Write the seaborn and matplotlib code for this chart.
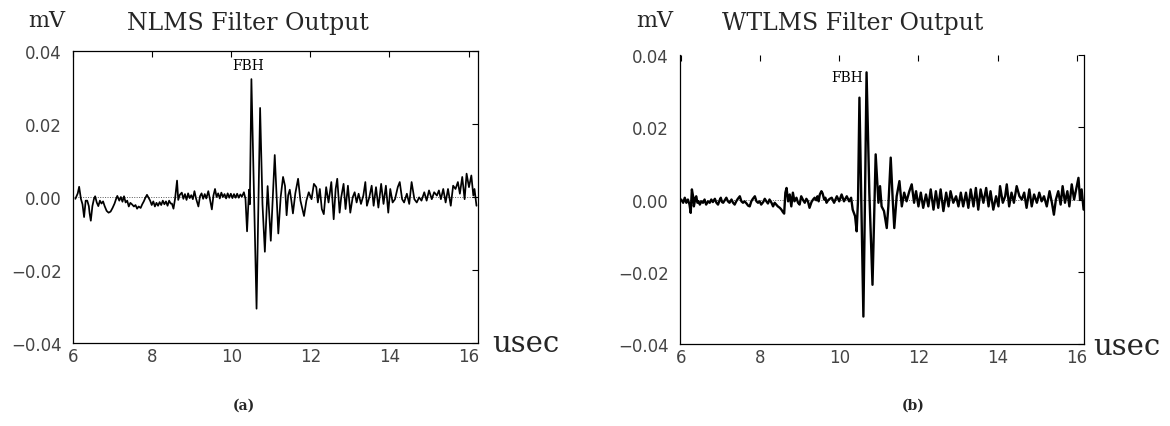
import numpy as np
import pandas as pd
import matplotlib
matplotlib.use("Agg")
import matplotlib.pyplot as plt
import seaborn as sns

# ---------------- data (time in usec, amplitude in 1e-3 mV) ----------------
nlms_time = [
    6.06, 6.12, 6.155, 6.20, 6.24, 6.28, 6.32, 6.36, 6.40, 6.42, 6.45, 6.49, 6.53, 6.56, 6.60, 6.64,
    6.68, 6.72, 6.76, 6.80, 6.85, 6.90, 6.95, 7.00, 7.05, 7.09, 7.12, 7.17, 7.21, 7.25, 7.29, 7.33,
    7.37, 7.41, 7.45, 7.49, 7.54, 7.58, 7.62, 7.66, 7.71, 7.75, 7.79, 7.83, 7.87, 7.91, 7.95, 7.99,
    8.03, 8.07, 8.11, 8.15, 8.19, 8.23, 8.27, 8.31, 8.35, 8.39, 8.43, 8.47, 8.50, 8.54, 8.58, 8.63,
    8.66, 8.70, 8.75, 8.79, 8.83, 8.87, 8.91, 8.95, 8.99, 9.03, 9.07, 9.11, 9.17, 9.21, 9.25, 9.29,
    9.33, 9.37, 9.42, 9.46, 9.51, 9.55, 9.59, 9.63, 9.67, 9.71, 9.75, 9.79, 9.83, 9.87, 9.91, 9.95,
    9.99, 10.03, 10.07, 10.11, 10.15, 10.19, 10.23, 10.27, 10.32, 10.36, 10.40, 10.45, 10.47, 10.51,
    10.64, 10.69, 10.73, 10.79, 10.85, 10.92, 11.00, 11.10, 11.19, 11.25, 11.31, 11.36, 11.40, 11.44,
    11.48, 11.52, 11.56, 11.62, 11.69, 11.75, 11.84, 11.90, 11.96, 12.03, 12.09, 12.15, 12.19, 12.24,
    12.29, 12.34, 12.40, 12.46, 12.53, 12.59, 12.64, 12.68, 12.74, 12.78, 12.84, 12.89, 12.95, 13.01,
    13.07, 13.12, 13.17, 13.22, 13.28, 13.34, 13.39, 13.43, 13.49, 13.55, 13.60, 13.66, 13.72, 13.79,
    13.85, 13.91, 13.97, 14.02, 14.08, 14.14, 14.21, 14.26, 14.32, 14.37, 14.44, 14.50, 14.56, 14.63,
    14.69, 14.75, 14.81, 14.88, 14.94, 15.00, 15.07, 15.13, 15.20, 15.25, 15.30, 15.36, 15.42, 15.48,
    15.55, 15.61, 15.67, 15.73, 15.78, 15.84, 15.90, 15.95, 16.01, 16.07, 16.12, 16.15, 16.20,
]
nlms_value_e3 = [
    -0.5, 1.0, 2.8, -0.5, -2.0, -5.5, -1.0, -1.0, -2.5, -4.5, -6.5, -2.5, -0.5, 0.2, -1.5, -2.5,
    -1.0, -1.8, -1.2, -2.5, -3.8, -4.3, -4.0, -3.0, -1.8, -0.5, 0.3, -1.0, 0.0, -1.3, 0.2, -1.5,
    -1.0, -2.6, -1.6, -2.0, -2.6, -2.2, -3.2, -2.6, -3.0, -2.0, -1.2, -0.2, 0.6, -0.2, -1.0, -2.2,
    -1.2, -2.6, -1.6, -2.4, -1.4, -2.2, -1.0, -2.0, -1.2, -2.4, -1.0, -1.8, -1.8, -3.2, -0.5, 4.5,
    -0.8, 0.6, 1.2, -0.5, 0.8, -0.8, 1.0, -0.3, 0.5, -0.6, 1.6, -0.4, -2.6, 0.2, 1.0, -0.5,
    0.8, -0.4, 1.6, -0.5, -3.4, 0.4, 2.2, 0.0, 1.0, -0.4, 1.2, 0.0, 0.8, -0.4, 1.0, -0.2,
    0.9, -0.3, 0.8, -0.2, 0.9, -0.2, 0.7, 0.1, 1.3, -0.5, -9.4, 2.0, -2.0, 32.3,
    -30.6, 0.0, 24.4, -2.0, -15.0, 3.0, -12.0, 11.5, -10.0, 0.0, 5.5, 3.0, -5.0, 0.5,
    2.0, -1.0, -4.5, 1.0, 5.0, -1.0, -5.2, -1.0, 1.3, -0.6, 3.6, 2.7, -1.5, 2.2,
    -3.3, -4.7, 2.7, -1.5, 4.1, -6.1, 2.2, 5.0, -4.3, -0.1, 3.6, -3.3, 3.1, -4.3,
    -0.1, 1.3, -1.5, 0.9, -1.9, 0.4, 4.1, -2.4, -0.1, 3.1, -2.4, 2.7, -2.9, 3.6,
    -1.9, 3.1, -4.3, 2.2, -1.5, -0.6, 2.7, 4.1, -0.6, -1.5, 0.9, -1.9, 4.1, -0.6,
    -1.5, -0.1, -1.0, 1.3, -1.0, 1.8, -0.6, 1.3, 0.4, 1.8, -0.6, 2.2, -1.5, 2.2,
    -2.4, 3.1, 2.2, 4.1, 0.9, 5.5, -0.6, 6.4, 2.7, 5.9, 0.4, 2.2, -2.4,
]

wtlms_time = [
    6.01, 6.06, 6.10, 6.14, 6.18, 6.22, 6.25, 6.28, 6.31, 6.33, 6.37, 6.39, 6.42, 6.45, 6.48, 6.52,
    6.56, 6.60, 6.64, 6.69, 6.73, 6.77, 6.81, 6.86, 6.90, 6.94, 6.98, 7.01, 7.04, 7.07, 7.11, 7.15,
    7.19, 7.23, 7.28, 7.32, 7.36, 7.40, 7.44, 7.49, 7.53, 7.57, 7.61, 7.66, 7.70, 7.74, 7.78, 7.82,
    7.87, 7.91, 7.95, 7.99, 8.03, 8.08, 8.12, 8.16, 8.20, 8.24, 8.29, 8.33, 8.37, 8.41, 8.45, 8.50,
    8.54, 8.58, 8.61, 8.64, 8.67, 8.71, 8.75, 8.79, 8.83, 8.87, 8.92, 8.96, 9.00, 9.04, 9.09, 9.13,
    9.17, 9.21, 9.25, 9.30, 9.34, 9.38, 9.42, 9.45, 9.48, 9.51, 9.55, 9.58, 9.62, 9.65, 9.68, 9.72,
    9.76, 9.81, 9.87, 9.94, 10.00, 10.06, 10.12, 10.19, 10.25, 10.30, 10.34, 10.40, 10.44, 10.475,
    10.51, 10.55, 10.61, 10.65, 10.69, 10.76, 10.84, 10.92, 10.99, 11.03, 11.07, 11.13, 11.20, 11.24,
    11.30, 11.35, 11.39, 11.45, 11.52, 11.58, 11.64, 11.70, 11.77, 11.83, 11.89, 11.94, 12.00, 12.06,
    12.12, 12.19, 12.25, 12.31, 12.38, 12.44, 12.50, 12.56, 12.63, 12.70, 12.76, 12.81, 12.88, 12.95,
    13.01, 13.07, 13.13, 13.20, 13.26, 13.32, 13.39, 13.45, 13.51, 13.57, 13.64, 13.71, 13.77, 13.82,
    13.89, 13.96, 14.02, 14.06, 14.13, 14.19, 14.23, 14.29, 14.35, 14.41, 14.48, 14.55, 14.61, 14.67,
    14.73, 14.80, 14.86, 14.92, 14.99, 15.05, 15.11, 15.17, 15.24, 15.31, 15.37, 15.42, 15.47, 15.53,
    15.59, 15.64, 15.70, 15.76, 15.81, 15.87, 15.93, 15.98, 16.04, 16.08, 16.12, 16.17,
]
wtlms_value_e3 = [
    0.0, -0.9, 0.5, -0.9, 0.0, -1.4, -3.7, 2.8, 0.9, -1.9, 0.5, 0.9, -0.9, -0.5, -1.4, -0.5,
    -0.9, 0.0, -1.4, -0.5, -0.9, 0.0, -0.7, 0.2, -0.9, -1.4, -0.2, 0.5, -0.7, -0.9, -0.2, 0.5,
    -0.5, -0.9, 0.0, -0.9, -1.4, -0.5, 0.2, 0.9, -0.5, -0.9, -0.5, -1.1, -1.7, -1.9, -0.5, 0.2,
    0.9, -0.5, -0.9, -0.5, -1.4, -0.7, 0.2, -0.5, -1.1, 0.0, -0.9, -1.9, -0.9, -1.4, -1.9, -2.3,
    -2.8, -3.5, -3.9, 1.9, 3.2, -0.5, 1.4, -1.9, 1.9, -0.5, 0.5, -0.9, -1.4, 0.9, -0.2, -0.9,
    0.2, -0.5, -2.3, -0.7, 0.0, 0.5, -0.2, 0.9, -0.5, 1.4, 2.3, 1.7, 0.0, 0.5, -0.9, -0.2,
    0.2, 0.5, -0.9, 0.9, -0.5, 1.4, -0.5, 0.9, -0.5, 0.5, -2.8, -4.6, -8.8, 0.0,
    28.2, 3.7, -32.4, 0.0, 35.2, 1.9, -23.6, 12.5, -0.9, 3.7, -1.9, -3.2, -7.9, -1.9,
    11.6, 0.0, -7.9, 0.9, 5.1, -1.9, 1.9, -0.5, 2.3, 4.2, -0.9, 2.3, -1.9, 1.9,
    -2.3, 1.4, -1.9, 2.8, -2.8, 2.3, -2.3, 2.8, -3.2, 1.9, -1.9, 2.3, -0.9, 0.9,
    -1.9, 1.9, -1.9, 1.9, -2.3, 2.8, -1.9, 3.2, -2.8, 2.8, -0.9, 3.2, -1.9, 2.3,
    -2.8, 0.9, -1.9, 3.7, -0.9, 0.9, 4.2, -1.9, 1.9, -0.9, 3.7, 0.9, 0.0, 1.9,
    -2.3, 2.8, -1.9, 1.4, -0.9, 1.9, -0.5, 0.9, -1.9, 2.3, -0.9, -4.2, 0.0, 2.3,
    -1.4, 3.7, -0.9, 2.3, -1.9, 4.2, 0.0, 2.8, 6.0, 0.0, 2.8, -2.8,
]

y_ticks = [-0.04, -0.02, 0.00, 0.02, 0.04]
x_ticks = [6, 8, 10, 12, 14, 16]
titles = ["NLMS Filter Output", "WTLMS Filter Output"]
panel_labels = ["(a)", "(b)"]

# ---------------- style ----------------
sns.set_theme(style="white")
plt.rcParams["font.family"] = ["DejaVu Sans"]
plt.rcParams["xtick.direction"] = "in"
plt.rcParams["ytick.direction"] = "in"

fig = plt.figure(figsize=(11.70, 4.27), dpi=100)
ax1 = fig.add_axes([0.0624, 0.1944, 0.3462, 0.6838])
ax2 = fig.add_axes([0.5812, 0.1920, 0.3453, 0.6768])

df1 = pd.DataFrame({"t": nlms_time, "v": np.array(nlms_value_e3) / 1000.0})
df2 = pd.DataFrame({"t": wtlms_time, "v": np.array(wtlms_value_e3) / 1000.0})

sns.lineplot(data=df1, x="t", y="v", ax=ax1, color="black", lw=1.25,
             estimator=None, sort=False)
sns.lineplot(data=df2, x="t", y="v", ax=ax2, color="black", lw=1.7,
             estimator=None, sort=False)

for ax, xlim in ((ax1, (6.06, 16.24)), (ax2, (5.98, 16.18))):
    ax.set_xlim(*xlim)
    ax.set_ylim(-0.04, 0.04)
    ax.axhline(0, ls=(0, (1, 1.5)), lw=0.7, color="0.35", zorder=0)
    ax.set_xticks(x_ticks)
    ax.set_yticks(y_ticks)
    ax.set_xlabel("")
    ax.set_ylabel("")
    ax.tick_params(axis="both", which="major", direction="in", length=4, width=0.8,
                   top=True, right=True, labelsize=12, labelcolor="#444444", color="black")
    ax.tick_params(axis="y", pad=8)
    ax.tick_params(axis="x", pad=3)
    for s in ax.spines.values():
        s.set_color("black")
        s.set_linewidth(0.9)
ax2.spines["top"].set_visible(False)

ax1.text(10.44, 0.0361, "FBH", ha="center", va="center", fontsize=10,
         family="DejaVu Serif", color="black")
ax2.text(10.20, 0.0340, "FBH", ha="center", va="center", fontsize=10,
         family="DejaVu Serif", color="black")

serif = "DejaVu Serif"
fig.text(0.212, 0.946, titles[0], ha="center", va="center", fontsize=17, family=serif)
fig.text(0.729, 0.944, titles[1], ha="center", va="center", fontsize=17, family=serif)
fig.text(0.040, 0.950, "mV", ha="center", va="center", fontsize=16, family=serif)
fig.text(0.560, 0.950, "mV", ha="center", va="center", fontsize=16, family=serif)
fig.text(0.4205, 0.1756, "usec", ha="left", va="baseline", fontsize=21, family=serif)
fig.text(0.934, 0.1686, "usec", ha="left", va="baseline", fontsize=21, family=serif)
fig.text(0.2085, 0.049, panel_labels[0], ha="center", va="center", fontsize=10,
         family="DejaVu Serif", weight="bold")
fig.text(0.7805, 0.049, panel_labels[1], ha="center", va="center", fontsize=10,
         family="DejaVu Serif", weight="bold")

fig.savefig("out.png", dpi=100, facecolor="white")
